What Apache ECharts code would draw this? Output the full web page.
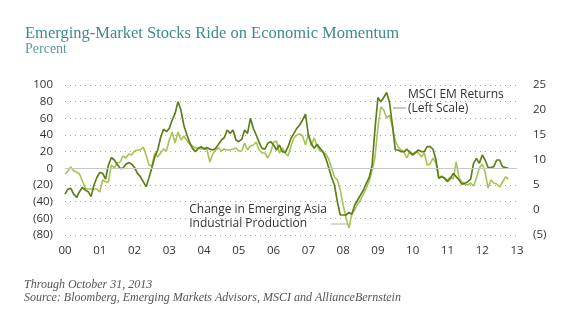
<!DOCTYPE html>
<html><head><meta charset="utf-8">
<script src="https://cdn.jsdelivr.net/npm/echarts@6/dist/echarts.min.js"></script>
<style>html,body{margin:0;padding:0;background:#fff}#c{width:580px;height:328px}</style>
</head><body><div id="c"></div>
<script>
// Year tick labels (x axis)
const yearLabels = ["00","01","02","03","04","05","06","07","08","09","10","11","12","13"];
// Left axis ticks (percent) and right axis ticks
const leftTicks = [-80, -60, -40, -20, 0, 20, 40, 60, 80, 100];
const rightTicks = [-5, 0, 5, 10, 15, 20, 25];

// MSCI EM returns, % (left scale), monthly from the first tick
const msciReturns = [
  -31,-25,-24,-31,-35,-28,-23,-26,-28,-34,-20,-11,
  -5,-6,-13,4,13,10,5,0,0,5,7,5,
  1,-6,-10,-16,-22,-11,1,14,22,37,47,44,
  48,58,66,80,70,52,41,31,24,20,24,26,
  23,25,23,22,24,29,34,37,46,42,46,34,
  32,35,46,42,60,48,40,31,24,23,30,32,
  28,22,28,20,19,26,36,42,48,52,58,65,
  40,30,24,29,24,20,12,1,-11,-20,-40,-56,
  -56,-56,-53,-55,-44,-38,-32,-26,-18,-11,4,48,
  85,80,85,91,79,52,22,22,20,20,23,19,
  16,19,22,20,20,26,26,23,11,-12,-10,-12,
  -16,-12,-6,-10,-14,-19,-18,-16,-13,6,12,6,
  16,10,1,1,2,10,10,2,1,0
];
// Change in Emerging Asia industrial production, % (right scale)
const asiaIP = [
  7.2,7.8,8.6,7.8,7.6,7.2,5.8,4.4,4.2,4.2,4.2,4.2,
  3.6,6.0,5.6,5.6,9.0,8.4,9.4,9.6,10.8,10.4,11.2,11.0,
  11.8,12.0,12.0,12.6,11.0,9.0,8.8,11.4,10.6,11.4,12.2,11.8,
  14.0,15.6,13.4,15.6,14.0,14.8,14.0,13.2,12.8,12.4,12.4,12.2,
  12.4,12.0,9.6,11.2,12.0,12.4,11.8,12.2,12.0,12.0,12.2,12.4,
  11.8,11.8,13.4,12.0,12.8,13.0,13.6,12.0,11.4,11.4,10.4,11.6,
  13.6,13.8,11.4,12.4,11.4,10.8,12.8,14.4,15.0,15.2,14.8,13.0,
  15.2,12.8,14.4,12.8,11.8,11.6,11.2,10.2,8.4,6.6,6.0,4.0,
  1.0,-1.6,-3.6,-0.8,0.0,1.2,2.0,3.2,4.4,5.8,8.0,10.6,
  16.6,20.6,20.0,18.4,19.0,16.6,13.8,12.6,12.0,11.6,10.4,11.8,
  11.2,11.6,11.4,10.6,11.4,9.0,9.2,10.4,9.4,6.4,6.8,6.4,
  6.0,6.6,6.2,9.6,6.4,5.6,5.2,5.0,5.4,4.8,6.4,8.4,
  9.2,7.6,4.4,6.0,5.4,5.2,4.6,5.6,6.6,6.2
];

// Monthly categories spanning the year ticks
const categories = [];
yearLabels.forEach((y, k) => {
  const n = (k === yearLabels.length - 1) ? 1 : 12;
  for (let m = 0; m < n; m++) categories.push(m === 0 ? y : y + "-" + (m + 1));
});

const fmt = v => v < 0 ? "(" + Math.abs(v) + ")" : String(v);
const labelFont = "'Open Sans', 'DejaVu Sans', sans-serif";
const serif = "'Liberation Serif', 'DejaVu Serif', serif";

const chart = echarts.init(document.getElementById('c'), null, {renderer: 'canvas'});
chart.setOption({
  animation: false,
  backgroundColor: '#fff',
  grid: {left: 65, right: 63, top: 85, bottom: 93, containLabel: false},
  xAxis: {
    type: 'category', data: categories, boundaryGap: false,
    axisLine: {show: false}, axisTick: {show: false},
    axisLabel: {
      interval: i => i % 12 === 0,
      formatter: v => v.split('-')[0],
      color: '#333', fontFamily: labelFont, fontSize: 11.5, margin: 10
    },
    splitLine: {show: false}
  },
  yAxis: [{
    type: 'value', min: leftTicks[0], max: leftTicks[leftTicks.length - 1], interval: 20,
    axisLine: {show: false}, axisTick: {show: false},
    axisLabel: {formatter: fmt, color: '#333', fontFamily: labelFont, fontSize: 11.5, margin: 12},
    splitLine: {show: true, lineStyle: {color: '#a8a8a8', type: [1, 4], width: 1}}
  }, {
    type: 'value', min: rightTicks[0], max: rightTicks[rightTicks.length - 1], interval: 5,
    axisLine: {show: false}, axisTick: {show: false},
    axisLabel: {formatter: fmt, color: '#333', fontFamily: labelFont, fontSize: 11.5, margin: 16},
    splitLine: {show: false}
  }],
  series: [{
    name: 'Change in Emerging Asia Industrial Production', type: 'line', yAxisIndex: 1,
    data: asiaIP, symbol: 'none', lineStyle: {color: '#a6c452', width: 1.6}, z: 3,
    markLine: {silent: true, symbol: 'none', label: {show: false},
      lineStyle: {color: '#c8c8c8', type: 'solid', width: 1},
      data: [{yAxis: 8.4}]}
  }, {
    name: 'MSCI EM Returns (Left Scale)', type: 'line', yAxisIndex: 0,
    data: msciReturns, symbol: 'none', lineStyle: {color: '#5f7f1c', width: 1.7}, z: 4
  }],
  graphic: [
    {type: 'text', left: 25, top: 25, style: {text: 'Emerging-Market Stocks Ride on Economic Momentum', fill: '#3f8b8b', font: '16.5px ' + serif}},
    {type: 'text', left: 25, top: 42, style: {text: 'Percent', fill: '#5a9c9c', font: '14px ' + serif}},
    {type: 'text', left: 24, top: 279, style: {text: 'Through October 31, 2013', fill: '#555', font: 'italic 12px ' + serif}},
    {type: 'text', left: 24, top: 292, style: {text: 'Source: Bloomberg, Emerging Markets Advisors, MSCI and AllianceBernstein', fill: '#555', font: 'italic 12px ' + serif}},
    {type: 'text', left: 408, top: 88, style: {text: 'MSCI EM Returns\n(Left Scale)', fill: '#333', font: '12px ' + labelFont, lineHeight: 14}},
    {type: 'line', shape: {x1: 393, y1: 108, x2: 406, y2: 108}, style: {stroke: '#c8c8c8', lineWidth: 2}},
    {type: 'text', right: 253, top: 203, style: {text: 'Change in Emerging Asia\nIndustrial Production', fill: '#333', font: '12px ' + labelFont, lineHeight: 14, align: 'right'}},
    {type: 'line', shape: {x1: 331, y1: 224, x2: 347, y2: 224}, style: {stroke: '#b0b0b0', lineWidth: 1}}
  ]
});
</script></body></html>
